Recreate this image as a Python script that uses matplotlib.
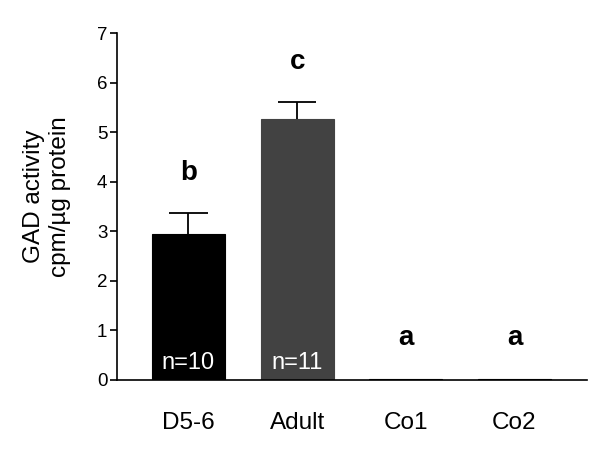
import matplotlib
matplotlib.use("Agg")
import matplotlib.pyplot as plt

categories = ["D5-6", "Adult", "Co1", "Co2"]
values = [2.94, 5.27, 0.02, 0.02]
errors = [0.44, 0.35, 0.0, 0.0]
letters = ["b", "c", "a", "a"]
n_labels = ["n=10", "n=11", "", ""]
colors = ["#000000", "#424242", "#000000", "#000000"]

plt.rcParams['font.family'] = ['Liberation Sans', 'DejaVu Sans']
fig = plt.figure(figsize=(6, 4.5), dpi=100)
ax = fig.add_axes([0.195, 0.1556, 0.783, 0.770])

x = list(range(len(categories)))
ax.bar(x, values, width=0.67, color=colors, edgecolor=colors, linewidth=0.8, zorder=2)
cap = 0.175
for xi, v, e in zip(x, values, errors):
    if e > 0:
        ax.vlines(xi, v, v + e, color='black', linewidth=1.3, zorder=3)
        ax.hlines(v + e, xi - cap, xi + cap, color='black', linewidth=1.3, zorder=3)
letter_y = [4.05, 6.28, 0.71, 0.71]
for xi, l, ly in zip(x, letters, letter_y):
    ax.text(xi, ly, l, ha='center', va='baseline', fontsize=20, fontweight='bold')
for xi, n in zip(x, n_labels):
    if n:
        ax.text(xi, 0.216, n, ha='center', va='baseline', fontsize=17, color='white')

ax.set_xlim(-0.658, 3.666)
ax.set_ylim(0, 7)
ax.set_yticks(range(0, 8))
ax.set_xticks(x)
ax.set_xticklabels(categories, fontsize=17.5)
ax.tick_params(axis='x', length=0, pad=23)
ax.tick_params(axis='y', length=5, width=1.2, labelsize=13.5, pad=2)
for s in ['top', 'right']:
    ax.spines[s].set_visible(False)
for s in ['left', 'bottom']:
    ax.spines[s].set_linewidth(1.2)
ax.set_ylabel("GAD activity\ncpm/µg protein", fontsize=17.5)
ax.yaxis.label.set_verticalalignment('center')
ax.yaxis.set_label_coords(-0.149, 0.53)

fig.savefig("out.png", dpi=100)
